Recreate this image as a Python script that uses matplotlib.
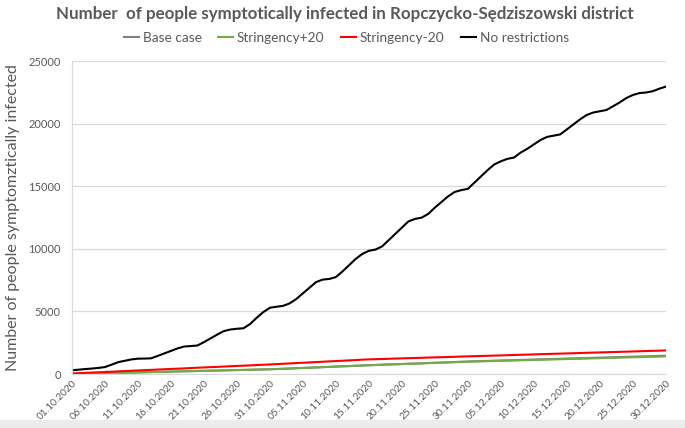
import numpy as np
import pandas as pd
import matplotlib
matplotlib.use('Agg')
import matplotlib.pyplot as plt

plt.rcParams['font.family'] = ['Lato', 'DejaVu Sans']

# Dni od 01.10.2020 do 30.12.2020
dates = pd.date_range('2020-10-01', '2020-12-30', freq='D')
date_labels = [d.strftime('%d.%m.%Y') for d in dates]

no_restrictions = [
    300, 350, 400, 440, 490, 560, 750, 950, 1060, 1170,
    1230, 1240, 1260, 1450, 1650, 1850, 2050, 2200, 2240, 2280,
    2550, 2850, 3150, 3430, 3560, 3620, 3660, 4000, 4500, 4950,
    5300, 5380, 5450, 5650, 6000, 6450, 6900, 7350, 7550, 7600,
    7750, 8200, 8700, 9200, 9600, 9850, 9950, 10200, 10700, 11200,
    11700, 12200, 12400, 12500, 12800, 13300, 13750, 14200, 14550, 14700,
    14800, 15300, 15800, 16300, 16750, 17000, 17200, 17300, 17700, 18000,
    18350, 18700, 18950, 19050, 19150, 19550, 19950, 20350, 20700, 20900,
    21000, 21100, 21400, 21700, 22050, 22300, 22450, 22500, 22600, 22800,
    22970,
]

stringency_minus20 = [
    50, 70, 95, 120, 140, 165, 190, 215, 240, 265,
    290, 310, 335, 360, 385, 410, 430, 455, 480, 505,
    530, 555, 575, 600, 625, 650, 670, 695, 720, 745,
    770, 795, 825, 850, 880, 905, 930, 960, 985, 1015,
    1040, 1065, 1095, 1120, 1150, 1175, 1190, 1205, 1220, 1240,
    1255, 1270, 1285, 1300, 1320, 1335, 1350, 1365, 1380, 1400,
    1415, 1430, 1445, 1460, 1475, 1490, 1510, 1525, 1540, 1555,
    1570, 1590, 1605, 1620, 1635, 1650, 1665, 1680, 1700, 1715,
    1730, 1745, 1760, 1775, 1790, 1810, 1825, 1840, 1855, 1870,
    1890,
]

stringency_plus20 = [
    10, 22, 35, 47, 60, 72, 84, 96, 109, 121,
    133, 146, 158, 170, 183, 195, 207, 220, 232, 244,
    257, 269, 281, 294, 306, 318, 331, 343, 355, 368,
    380, 400, 420, 440, 465, 485, 505, 525, 550, 570,
    595, 615, 635, 660, 680, 700, 720, 740, 760, 775,
    795, 815, 830, 850, 870, 890, 905, 925, 945, 965,
    985, 1000, 1015, 1030, 1045, 1060, 1070, 1085, 1100, 1115,
    1130, 1145, 1155, 1170, 1185, 1200, 1215, 1225, 1240, 1255,
    1270, 1285, 1295, 1310, 1325, 1340, 1355, 1365, 1380, 1395,
    1410,
]

base_case = [
    12, 24, 37, 49, 62, 74, 86, 98, 111, 123,
    135, 148, 160, 172, 185, 197, 209, 222, 234, 246,
    259, 271, 283, 296, 308, 320, 333, 345, 357, 370,
    385, 405, 425, 447, 470, 490, 512, 532, 556, 577,
    602, 623, 643, 668, 690, 710, 730, 752, 772, 788,
    808, 830, 845, 866, 887, 908, 924, 945, 966, 987,
    1008, 1025, 1040, 1056, 1072, 1088, 1100, 1116, 1132, 1148,
    1164, 1180, 1192, 1208, 1224, 1240, 1256, 1268, 1284, 1300,
    1316, 1332, 1344, 1360, 1376, 1392, 1408, 1420, 1436, 1452,
    1470,
]

series = [
    ('Base case', base_case, '#7f7f7f'),
    ('Stringency+20', stringency_plus20, '#70ad47'),
    ('Stringency-20', stringency_minus20, '#ff0000'),
    ('No restrictions', no_restrictions, '#000000'),
]

text_col = '#595959'
x = np.arange(len(dates))

fig = plt.figure(figsize=(6.85, 4.28), dpi=100)

# pasek u dolu zrzutu ekranu
fig.patches.append(plt.Rectangle((0, 0), 1, 0.018, transform=fig.transFigure,
                                 color='#ececec', zorder=-5))

ax = fig.add_axes([0.105, 0.126, 0.867, 0.731])

for name, vals, col in series:
    ax.plot(x, vals, color=col, lw=1.5, label=name)

ax.set_xlim(0, len(dates) - 1)
ax.set_ylim(0, 25000)
ax.set_yticks(np.arange(0, 25001, 5000))
ax.yaxis.grid(True, color='#d9d9d9', lw=0.9)
ax.set_axisbelow(True)

tick_pos = x[::5]
ax.set_xticks(tick_pos)
ax.set_xticklabels([date_labels[i] for i in tick_pos], rotation=45,
                   ha='right', va='top', rotation_mode='anchor',
                   fontsize=7.3, color=text_col)
ax.tick_params(axis='x', length=0, pad=3)
ax.tick_params(axis='y', length=0, labelsize=8, labelcolor=text_col, pad=8)

for s in ['top', 'right']:
    ax.spines[s].set_visible(False)
ax.spines['left'].set_color('#d9d9d9')
ax.spines['bottom'].set_color('#d9d9d9')

ax.set_ylabel('Number of people symptomztically infected', fontsize=11.5,
              color=text_col, labelpad=6)

fig.suptitle('Number  of people symptotically infected in Ropczycko-S\u0119dziszowski district',
             x=0.503, y=0.985, fontsize=12.2, fontweight='bold', color=text_col)

ax.legend(loc='lower center', bbox_to_anchor=(0.462, 1.015), ncol=4,
          frameon=False, fontsize=9.8, handlelength=1.1, handletextpad=0.3,
          columnspacing=1.2, labelcolor=text_col)

fig.savefig('out.png', dpi=100)
